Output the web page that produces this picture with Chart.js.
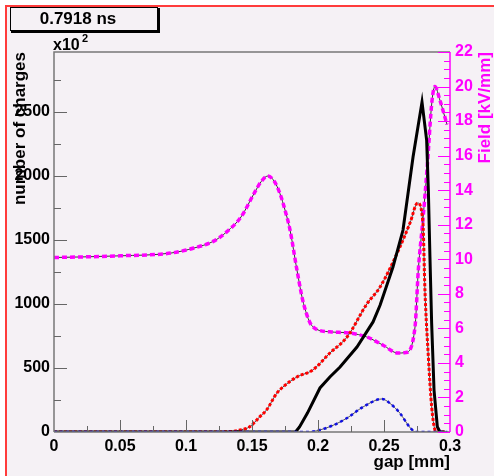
<!DOCTYPE html>
<html>
<head>
<meta charset="utf-8">
<script src="https://cdn.jsdelivr.net/npm/chart.js@4.4.0/dist/chart.umd.min.js"></script>
<style>
html, body { margin: 0; padding: 0; background: #ffffff; }
canvas { display: block; }
</style>
</head>
<body>
<canvas id="grafica" width="494" height="476"></canvas>
<script>
// Datos (gap en mm)
var gapNegro = [0, 0.183, 0.186, 0.192, 0.2015, 0.209, 0.2167, 0.2295, 0.2417, 0.247, 0.2568, 0.2644, 0.272, 0.2788, 0.2823, 0.2836, 0.2848, 0.2861, 0.2879, 0.2904, 0.2924, 0.296];
var cargasNegro = [0, 0, 40, 148, 344, 430, 508, 664, 860, 990, 1289, 1578, 2148, 2578, 2281, 1891, 1370, 849, 328, 41, 0, 0];

var gapRojo = [0, 0.118, 0.135, 0.142, 0.148, 0.156, 0.161, 0.1687, 0.1735, 0.184, 0.196, 0.209, 0.222, 0.237, 0.247, 0.26, 0.2697, 0.2755, 0.2795, 0.281, 0.2836, 0.2861, 0.2886, 0.29, 0.296];
var cargasRojo = [0, 0, 5, 18, 39, 120, 172, 302, 352, 430, 484, 617, 742, 1000, 1133, 1398, 1633, 1789, 1633, 1109, 588, 198, 16, 0, 0];

var gapAzul = [0, 0.192, 0.2015, 0.212, 0.222, 0.234, 0.2485, 0.2545, 0.262, 0.27, 0.274, 0.298];
var cargasAzul = [0, 0, 16, 55, 109, 195, 258, 224, 148, 31, 0, 0];

var gapMagenta = [0, 0.05, 0.0886, 0.106, 0.121, 0.131, 0.1417, 0.1515, 0.157, 0.162, 0.167, 0.1712, 0.175, 0.1788, 0.184, 0.189, 0.196, 0.209, 0.224, 0.237, 0.249, 0.2606, 0.2665, 0.2735, 0.276, 0.2795, 0.2826, 0.2864, 0.2886, 0.2924, 0.2977];
var campoMagenta = [10.1, 10.2, 10.36, 10.65, 11.05, 11.6, 12.45, 13.8, 14.5, 14.82, 14.5, 13.8, 12.85, 11.7, 9.4, 7.45, 6.1, 5.8, 5.73, 5.5, 5.04, 4.57, 4.6, 6.08, 9.38, 12.3, 15.2, 19.2, 20.0, 19.2, 17.8];

// Etiquetas de los ejes
var etiquetasX = ['0', '0.05', '0.1', '0.15', '0.2', '0.25', '0.3'];
var ticksCargas = [0, 500, 1000, 1500, 2000, 2500];

var fuente = '"Liberation Sans", Arial, Helvetica, sans-serif';
var fondo = '#f5f1f5';
var magenta = '#ff00ff';

function puntos(xs, ys) {
    return xs.map(function (x, i) { return { x: x, y: ys[i] }; });
}

// Marcas de los ejes, marco, caja de tiempo
var marcasEjes = {
    id: 'marcasEjes',
    beforeDraw: function (chart) {
        var ctx = chart.ctx;
        ctx.save();
        ctx.fillStyle = '#ffffff';
        ctx.fillRect(0, 0, chart.width, chart.height);
        ctx.fillStyle = fondo;
        ctx.fillRect(6, 6, chart.width - 6, chart.height - 6);
        ctx.strokeStyle = '#ff3b3b';
        ctx.lineWidth = 2;
        ctx.beginPath();
        ctx.moveTo(6, chart.height);
        ctx.lineTo(6, 6);
        ctx.lineTo(chart.width, 6);
        ctx.stroke();
        ctx.restore();
    },
    afterDraw: function (chart) {
        var ctx = chart.ctx;
        var a = chart.chartArea;
        var sx = chart.scales.x, sy = chart.scales.y, sy2 = chart.scales.y2;
        var i, p, len;
        ctx.save();

        // marco del area
        ctx.strokeStyle = '#777777';
        ctx.lineWidth = 1.5;
        ctx.beginPath();
        ctx.moveTo(a.left, a.bottom);
        ctx.lineTo(a.left, a.top);
        ctx.lineTo(a.right, a.top);
        ctx.moveTo(a.left, a.bottom);
        ctx.lineTo(a.right, a.bottom);
        ctx.stroke();

        // marcas eje x
        ctx.lineWidth = 1;
        ctx.strokeStyle = '#666666';
        ctx.beginPath();
        for (i = 1; i < 12; i++) {
            p = Math.round(sx.getPixelForValue(i * 0.025)) + 0.5;
            len = (i % 2 === 0) ? 12 : 6;
            ctx.moveTo(p, a.bottom);
            ctx.lineTo(p, a.bottom - len);
        }
        // marcas eje y izquierdo
        for (i = 1; i <= 11; i++) {
            p = Math.round(sy.getPixelForValue(i * 250)) + 0.5;
            len = (i % 2 === 0) ? 13 : 7;
            ctx.moveTo(a.left, p);
            ctx.lineTo(a.left + len, p);
        }
        ctx.stroke();

        // eje derecho (campo)
        ctx.strokeStyle = magenta;
        ctx.lineWidth = 1.5;
        ctx.beginPath();
        ctx.moveTo(a.right, a.bottom);
        ctx.lineTo(a.right, a.top);
        ctx.stroke();
        ctx.lineWidth = 1;
        ctx.beginPath();
        for (i = 0; i <= 44; i++) {
            p = Math.round(sy2.getPixelForValue(i * 0.5)) + 0.5;
            len = (i % 4 === 0) ? 12 : 6;
            ctx.moveTo(a.right, p);
            ctx.lineTo(a.right - len, p);
        }
        ctx.stroke();

        // titulo eje derecho
        ctx.translate(485, a.top);
        ctx.rotate(-Math.PI / 2);
        ctx.fillStyle = magenta;
        ctx.font = 'bold 17px ' + fuente;
        ctx.textAlign = 'right';
        ctx.textBaseline = 'middle';
        ctx.fillText('Field [kV/mm]', 0, 0);
        ctx.setTransform(1, 0, 0, 1, 0, 0);

        // x10^2
        ctx.fillStyle = '#000000';
        ctx.textAlign = 'left';
        ctx.textBaseline = 'alphabetic';
        ctx.font = 'bold 16px ' + fuente;
        ctx.fillText('x10', 53, 50);
        ctx.font = 'bold 11px ' + fuente;
        ctx.fillText('2', 82, 42);

        // caja del tiempo
        ctx.fillStyle = '#000000';
        ctx.fillRect(11, 8, 149, 25);
        ctx.fillStyle = fondo;
        ctx.fillRect(10, 7, 148, 24);
        ctx.strokeStyle = '#000000';
        ctx.lineWidth = 1;
        ctx.strokeRect(10.5, 7.5, 147, 23);
        ctx.fillStyle = '#000000';
        ctx.font = 'bold 17px ' + fuente;
        ctx.textAlign = 'center';
        ctx.textBaseline = 'alphabetic';
        ctx.fillText('0.7918 ns', 78, 24);

        ctx.restore();
    }
};

var datos = {
    datasets: [
        { data: puntos(gapAzul, cargasAzul), yAxisID: 'y', borderColor: '#1010e0', borderWidth: 2.5, borderDash: [3, 3], cubicInterpolationMode: 'monotone' },
        { data: puntos(gapAzul, cargasAzul), yAxisID: 'y', borderColor: '#555555', borderWidth: 1, cubicInterpolationMode: 'monotone' },
        { data: puntos(gapNegro, cargasNegro), yAxisID: 'y', borderColor: '#000000', borderWidth: 3, tension: 0 },
        { data: puntos(gapRojo, cargasRojo), yAxisID: 'y', borderColor: '#ff0000', borderWidth: 3, borderDash: [3, 2], cubicInterpolationMode: 'monotone' },
        { data: puntos(gapRojo, cargasRojo), yAxisID: 'y', borderColor: '#444444', borderWidth: 1, cubicInterpolationMode: 'monotone' },
        { data: puntos(gapMagenta, campoMagenta), yAxisID: 'y2', borderColor: magenta, borderWidth: 3.5, borderDash: [5, 3], cubicInterpolationMode: 'monotone' },
        { data: puntos(gapMagenta, campoMagenta), yAxisID: 'y2', borderColor: '#333333', borderWidth: 1, cubicInterpolationMode: 'monotone' }
    ]
};

var opciones = {
    responsive: false,
    animation: false,
    layout: { padding: { top: 52, left: 0, right: 0, bottom: 0 } },
    elements: { point: { radius: 0 } },
    plugins: { legend: { display: false }, tooltip: { enabled: false } },
    scales: {
        x: {
            type: 'linear',
            position: 'bottom',
            min: 0,
            max: 0.3,
            afterFit: function (s) { s.height = 44; },
            grid: { display: false, drawTicks: false },
            border: { display: false },
            ticks: {
                stepSize: 0.05,
                autoSkip: false,
                maxRotation: 0,
                padding: 5,
                color: '#000000',
                font: { family: fuente, size: 16, weight: 'bold' },
                callback: function (v) { return etiquetasX[Math.round(v / 0.05)]; }
            },
            title: {
                display: true,
                text: 'gap [mm]',
                align: 'end',
                color: '#000000',
                font: { family: fuente, size: 17, weight: 'bold' },
                padding: { top: 0, bottom: 3 }
            }
        },
        y: {
            type: 'linear',
            position: 'left',
            min: 0,
            max: 2969,
            afterFit: function (s) { s.width = 54; },
            afterBuildTicks: function (s) {
                s.ticks = ticksCargas.map(function (v) { return { value: v }; });
            },
            grid: { display: false, drawTicks: false },
            border: { display: false },
            ticks: {
                autoSkip: false,
                padding: 4,
                color: '#000000',
                font: { family: fuente, size: 16, weight: 'bold' },
                callback: function (v) { return String(v); }
            },
            title: {
                display: true,
                text: 'number of charges',
                align: 'end',
                color: '#000000',
                font: { family: fuente, size: 17, weight: 'bold' },
                padding: { top: 10, bottom: 0 }
            }
        },
        y2: {
            type: 'linear',
            position: 'right',
            min: 0,
            max: 22,
            afterFit: function (s) { s.width = 44; },
            grid: { display: false, drawTicks: false },
            border: { display: false },
            ticks: {
                stepSize: 2,
                padding: 5,
                color: magenta,
                font: { family: fuente, size: 16, weight: 'bold' }
            }
        }
    }
};

var ctx = document.getElementById('grafica').getContext('2d');
var grafica = new Chart(ctx, {
    type: 'line',
    data: datos,
    options: opciones,
    plugins: [marcasEjes]
});
</script>
</body>
</html>
